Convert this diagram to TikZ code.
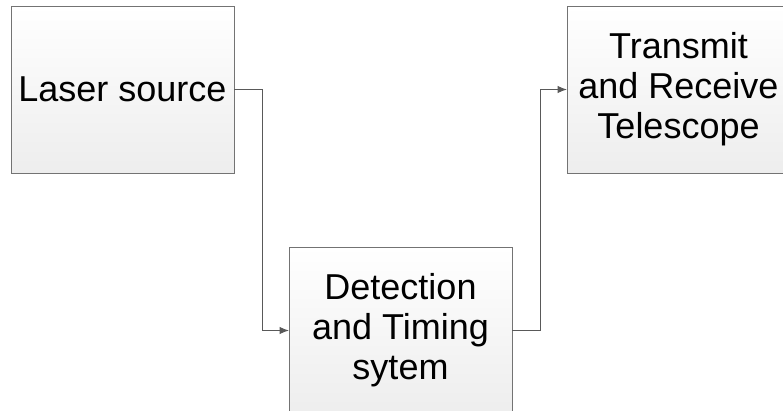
\documentclass[tikz,border=0pt]{standalone}
\usepackage{fontspec}
\setmainfont{Liberation Sans}
\usetikzlibrary{arrows.meta,positioning,shadows}

\begin{document}
\begin{tikzpicture}[
    x=0.75pt, y=-0.75pt,
    box/.style={rectangle, draw=black!55, line width=0.75pt, minimum width=167.25pt, minimum height=125.25pt, inner sep=0pt, outer sep=0pt, align=center, top color=white, bottom color=black!7, font=\fontsize{27}{30}\selectfont, drop shadow={opacity=0.15, shadow xshift=1pt, shadow yshift=-1pt}},
    arr/.style={-{Latex[length=7pt,width=5.5pt]}, draw=black!65, line width=0.75pt}
]
\useasboundingbox (0,0) rectangle (783,411);
\clip (0,0) rectangle (783,411);
\node[box] (laser) at (122.5,89.5) {Laser source};
\node[box, right=249.75pt of laser] (telescope) {Transmit\\and Receive\\Telescope};
\node[box, below right=55.5pt and 41.25pt of laser] (detection) {Detection\\and Timing\\sytem};

\draw[arr] (laser.east) -- ++(28,0) |- (detection.west);
\draw[arr] (detection.east) -- ++(28,0) |- (telescope.west);
\end{tikzpicture}
\end{document}
